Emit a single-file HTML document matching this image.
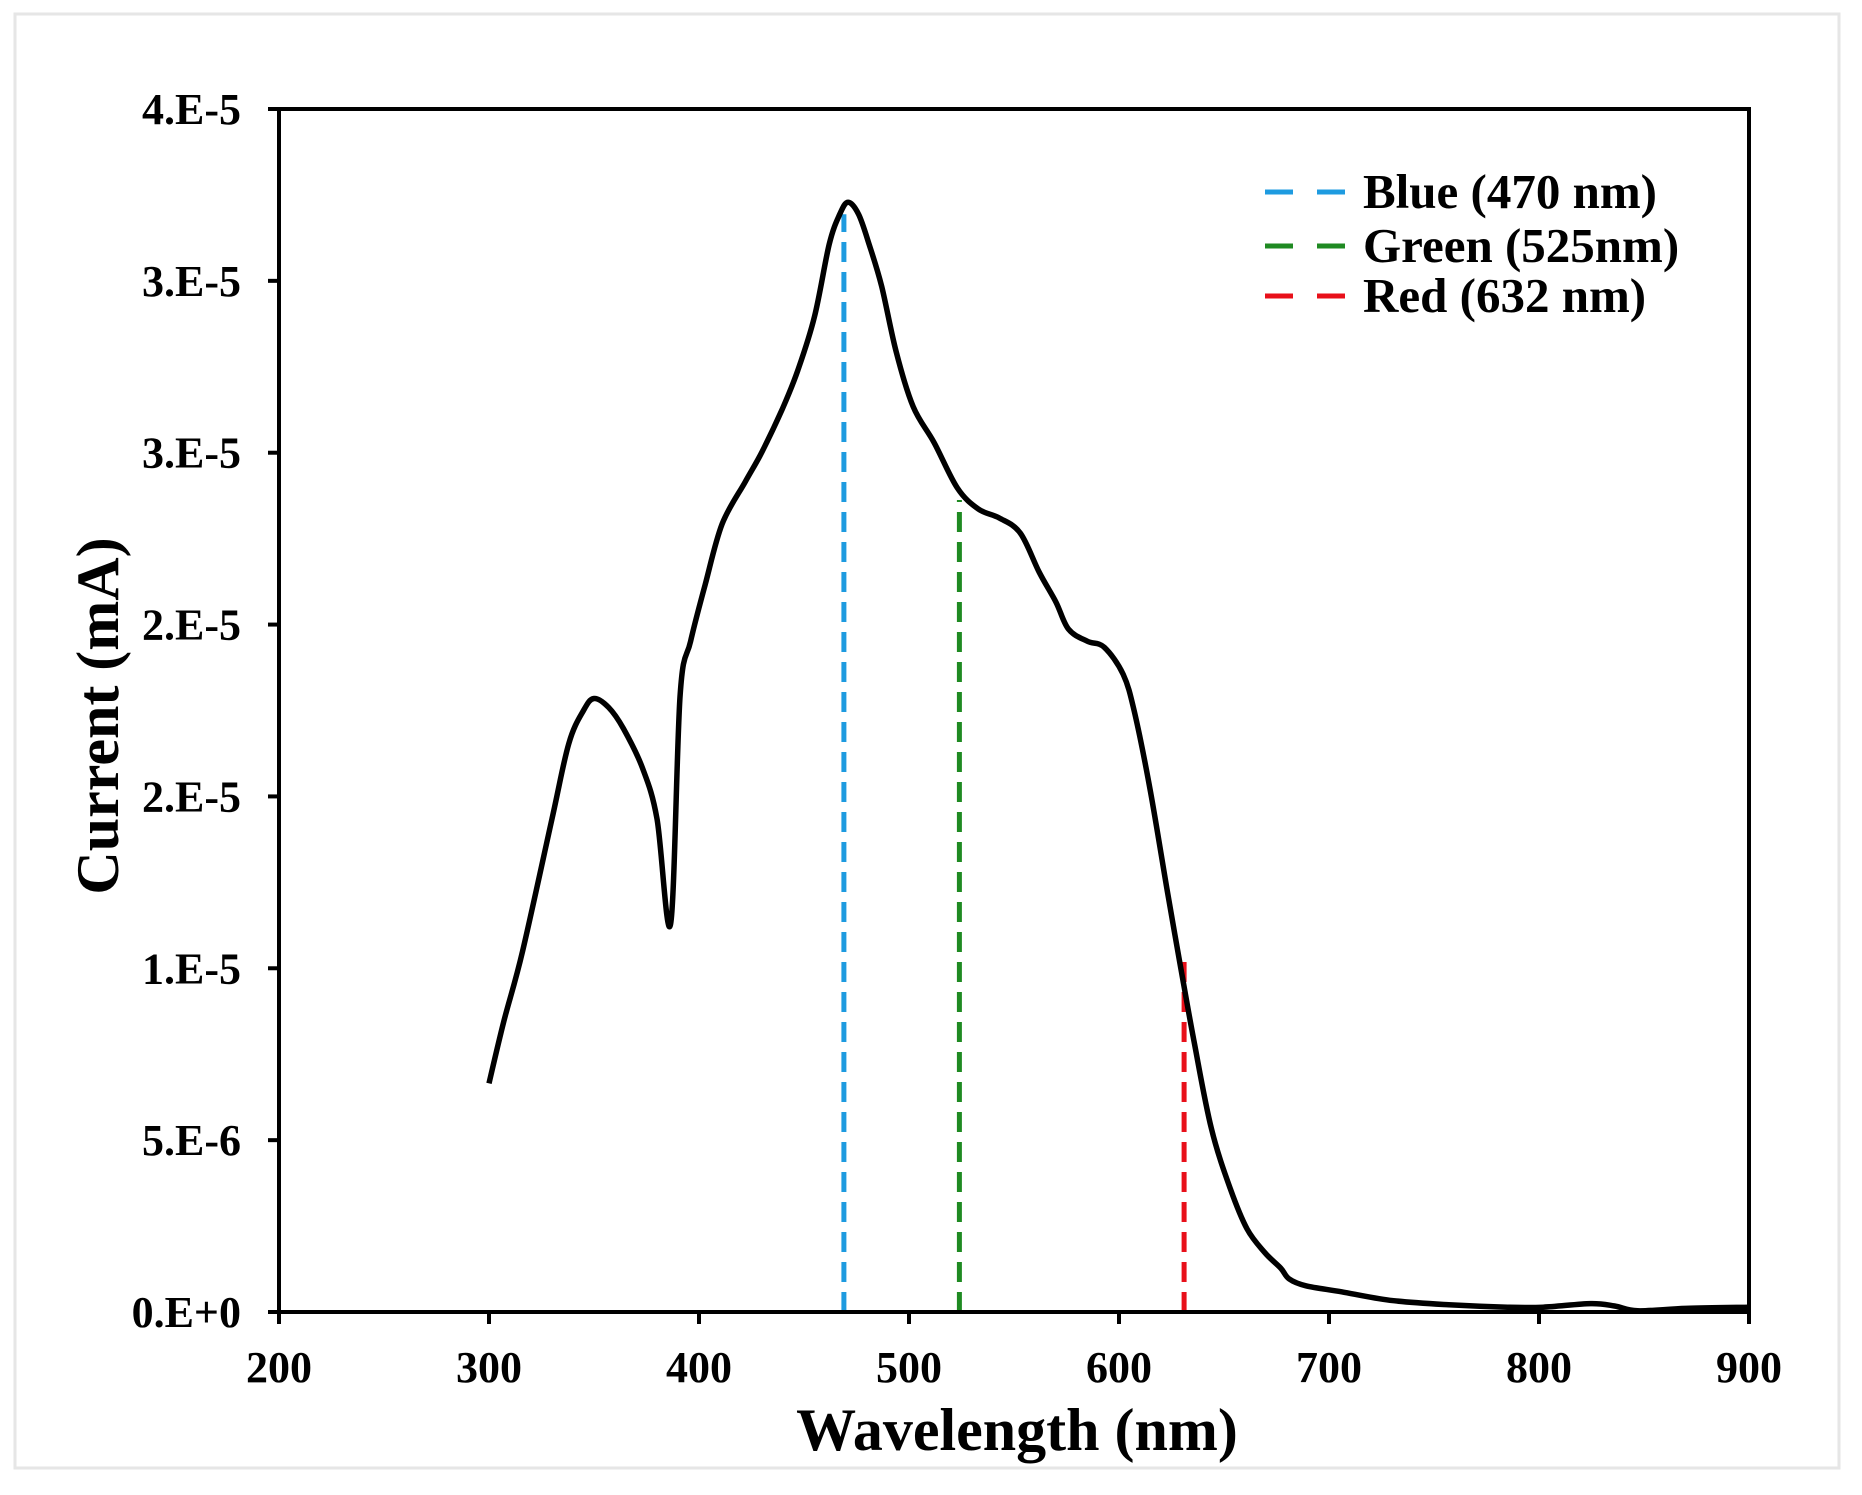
<!DOCTYPE html>
<html><head><meta charset="utf-8"><style>
html,body{margin:0;padding:0;background:#fff;}
svg{display:block;font-family:"Liberation Serif",serif;font-weight:bold;}
</style></head><body>
<svg id="chart" width="1862" height="1495" viewBox="0 0 1862 1495" xmlns="http://www.w3.org/2000/svg">
<rect x="15" y="14" width="1824" height="1454" fill="#fff" stroke="#e6e6e6" stroke-width="3"/>
<g id="plot"></g>
</svg>
<script>
const wavelengths = [300,307,316,330,338,345,350,357,364,373,380,386.5,391,396,403,411,422,430,439.5,447,455,462,467,471,476,481,487,494,502,512,523,533,543,553,562,570,576,585,593,602,607.5,615,623,629,636,644,653,661,669.5,677,681,689,706,729,757,785,802,824.5,836,847,870,900];
const currents = [7.6,9.65,12.0,16.4,18.9,20.0,20.4,20.1,19.4,18.1,16.4,12.9,20.5,22.3,24.2,26.2,27.6,28.6,30.0,31.3,33.1,35.5,36.5,36.9,36.5,35.5,34.1,31.9,30.1,28.9,27.4,26.7,26.4,25.9,24.6,23.6,22.7,22.3,22.1,21.2,19.9,17.3,14.0,11.6,8.9,6.1,4.1,2.76,1.97,1.46,1.1,0.87,0.67,0.39,0.24,0.16,0.16,0.28,0.2,0.04,0.12,0.16];
const markerNames = ["Blue (470 nm)","Green (525nm)","Red (632 nm)"];
const markerX = [469,524,631];
const markerTop = [36.5,27.0,11.8];
const markerColors = ["#1e9be0","#1f8a22","#e8101a"];
const xTicks = [200,300,400,500,600,700,800,900];
const yTicks = [0,5.714,11.429,17.143,22.857,28.571,34.286,40];
const yTickLabels = ["0.E+0","5.E-6","1.E-5","2.E-5","2.E-5","3.E-5","3.E-5","4.E-5"];

const L=279,R=1749,T=109,B=1312;
const X=v=>L+(v-200)/700*(R-L);
const Y=v=>B-v/40*(B-T);
const NS="http://www.w3.org/2000/svg";
const g=document.getElementById('plot');
function mk(tag,attrs,parent){const e=document.createElementNS(NS,tag);for(const k in attrs)e.setAttribute(k,attrs[k]);(parent||g).appendChild(e);return e;}

markerX.forEach((m,i)=>{
  const l=mk('line',{x1:X(m),x2:X(m),y1:B,y2:Y(markerTop[i]),stroke:markerColors[i],'stroke-width':5,'stroke-dasharray':'20 10'});
  
  
});
// smooth curve (Catmull-Rom)
const pts=wavelengths.map((w,i)=>[X(w),Y(currents[i])]);
let d='M'+pts[0][0].toFixed(1)+','+pts[0][1].toFixed(1);
for(let i=0;i<pts.length-1;i++){
  const p0=pts[Math.max(0,i-1)],p1=pts[i],p2=pts[i+1],p3=pts[Math.min(pts.length-1,i+2)];
  const c1=[p1[0]+(p2[0]-p0[0])/6,p1[1]+(p2[1]-p0[1])/6];
  const c2=[p2[0]-(p3[0]-p1[0])/6,p2[1]-(p3[1]-p1[1])/6];
  d+=' C'+c1[0].toFixed(1)+','+c1[1].toFixed(1)+' '+c2[0].toFixed(1)+','+c2[1].toFixed(1)+' '+p2[0].toFixed(1)+','+p2[1].toFixed(1);
}
const c=mk('path',{d:d,fill:'none',stroke:'#000','stroke-width':5.5,'stroke-linejoin':'round'});


const box=mk('rect',{x:L,y:T,width:R-L,height:B-T,fill:'none',stroke:'#000','stroke-width':4});


yTicks.forEach((v,i)=>{
  const t=mk('line',{x1:L-11,x2:L,y1:Y(v),y2:Y(v),stroke:'#000','stroke-width':4});
  
  
  const tx=mk('text',{x:241,y:Y(v)+15,'text-anchor':'end','font-size':44});
  tx.textContent=yTickLabels[i];
  
  
});
xTicks.forEach(v=>{
  const t=mk('line',{x1:X(v),x2:X(v),y1:B,y2:B+12,stroke:'#000','stroke-width':4});
  
  
  const tx=mk('text',{x:X(v),y:1382,'text-anchor':'middle','font-size':44});
  tx.textContent=v;
  
  
});
const xt=mk('text',{x:1017,y:1450,'text-anchor':'middle','font-size':60});
xt.textContent='Wavelength (nm)';


const yt=mk('text',{x:0,y:0,'text-anchor':'middle','font-size':60,transform:'translate(118,716) rotate(-90)'});
yt.textContent='Current (mA)';


const legY=[192,246,296];
markerNames.forEach((n,i)=>{
  const l=mk('line',{x1:1265,x2:1348,y1:legY[i],y2:legY[i],stroke:markerColors[i],'stroke-width':5,'stroke-dasharray':'28 24'});
  
  
  const tx=mk('text',{x:1363,y:legY[i]+16,'font-size':49});
  tx.textContent=n;
  
  
});
</script>
</body></html>
